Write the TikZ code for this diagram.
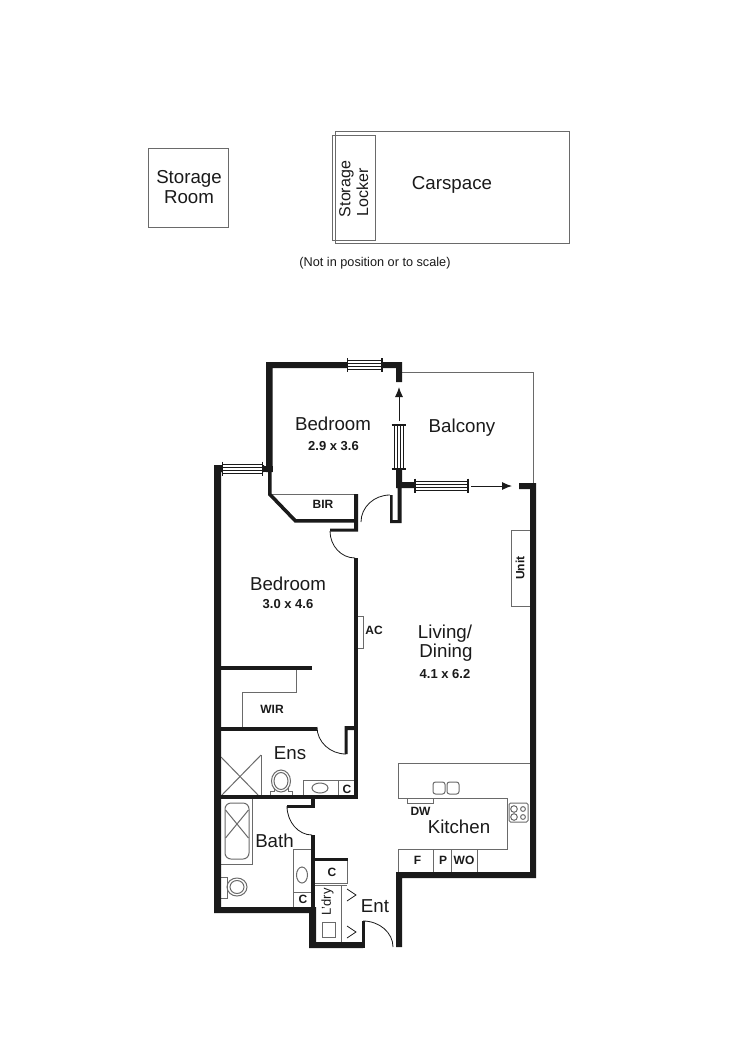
\documentclass[tikz,border=0pt]{standalone}
\usepackage{fontspec}
\setmainfont{Liberation Sans}
\usetikzlibrary{arrows.meta,calc}
\definecolor{ink}{HTML}{1A1A1A}
\definecolor{fixture}{HTML}{6A6A6A}
\tikzset{
  wall/.style={fill=ink,draw=none},
  fix/.style={draw=fixture,line width=1pt},
  keyline/.style={draw=ink,line width=0.8pt},
  doorarc/.style={draw=ink,line width=0.8pt},
  winframe/.style={draw=ink,fill=white,line width=0.9pt},
  movearrow/.style={draw=ink,line width=1pt,-{Latex[length=10pt,width=8pt]}},
  room/.style={inner sep=0pt,font=\fontsize{18.7}{20}\selectfont,text=ink},
  lockertext/.style={inner sep=0pt,font=\fontsize{16}{18}\selectfont,text=ink},
  dims/.style={inner sep=0pt,font=\fontsize{13}{15}\selectfont\bfseries,text=ink},
  tag/.style={inner sep=0pt,font=\fontsize{12}{14}\selectfont\bfseries,text=ink},
  plainTag/.style={inner sep=0pt,font=\fontsize{13}{15}\selectfont,text=ink},
  note/.style={inner sep=0pt,font=\fontsize{12.7}{14}\selectfont,text=ink}
}
% quarter circle from #1 to #2, tangents meeting at #3
\newcommand{\qarc}[3]{\draw[doorarc] (#1) .. controls ($(#1)!.55!(#3)$) and ($(#2)!.55!(#3)$) .. (#2);}
\newcommand{\hwin}[3]{% x1,x2,yc
  \draw[winframe] (#1,#3-4.5) rectangle (#2,#3+4.5);
  \draw[keyline] (#1,#3-1.5) -- (#2,#3-1.5) (#1,#3+1.5) -- (#2,#3+1.5);
  \draw[ink,line width=1.6pt] (#1,#3-7) -- (#1,#3+7) (#2,#3-7) -- (#2,#3+7);}
\newcommand{\vwin}[3]{% y1,y2,xc
  \draw[winframe] (#3-4.5,#1) rectangle (#3+4.5,#2);
  \draw[keyline] (#3-1.5,#1) -- (#3-1.5,#2) (#3+1.5,#1) -- (#3+1.5,#2);
  \draw[ink,line width=1.6pt] (#3-7,#1) -- (#3+7,#1) (#3-7,#2) -- (#3+7,#2);}
\begin{document}
\begin{tikzpicture}[x=1pt,y=-1pt]
\useasboundingbox[fill=white] (0,0) rectangle (750,1060);

% --- detached spaces
\draw[fix] (148.5,148.5) rectangle (228,227);
\draw[fix] (335,131.5) rectangle (569,243.5);
\draw[fix] (332.5,135) rectangle (375.5,240);

% --- balcony, light lines
\draw[fix] (402,372.5) -- (533,372.5) -- (533,484);

% --- fixtures
\draw[fix] (530,606) -- (511,606) -- (511,530) -- (530,530);
\draw[fix] (358,616) -- (363,616) -- (363,648) -- (358,648);
\draw[fix] (271,494.5) -- (355,494.5);
\draw[fix] (296,668) -- (296,692) -- (242,692) -- (242,727);
% shower
\draw[fix] (261,755) -- (261,796);
\draw[fix] (221,757) -- (259,796) (221,796) -- (261,755);
% ensuite toilet
\draw[fix] (270.5,796) -- (270.5,791) -- (274,791) -- (274,788) (288,788) -- (288,791) -- (292.5,791) -- (292.5,796);
\draw[fix] (281,781) ellipse [x radius=9.5,y radius=11];
\draw[fix] (281,781) ellipse [x radius=7,y radius=8.5];
% ensuite vanity
\draw[fix] (303.5,796) -- (303.5,780.5) -- (354,780.5);
\draw[fix] (338,780.5) -- (338,796);
\draw[fix] (320,788) ellipse [x radius=8,y radius=5];
% bath
\draw[fix] (252,799) -- (252,864) -- (221,864);
\draw[fix,rounded corners=6pt] (225,803) rectangle (249,859);
\draw[fix] (225.5,810) -- (248.5,838) (248.5,810) -- (225.5,838);
% bath toilet
\draw[fix] (221,877) -- (227,877) -- (227,898) -- (221,898);
\draw[fix] (237,887) ellipse [x radius=10,y radius=9];
\draw[fix] (237,887) ellipse [x radius=7,y radius=6.5];
% bath vanity
\draw[fix] (311,849.5) -- (293.5,849.5) -- (293.5,907);
\draw[fix] (293.5,892) -- (311,892);
\draw[fix] (302,875) ellipse [x radius=5.5,y radius=8];
% store and laundry
\draw[fix] (347,860) -- (347,883) -- (315,883);
\draw[fix] (315,885) -- (347,885);
\draw[fix] (341,885) -- (341,942);
\draw[fix] (322.5,922) rectangle (335,937);
\draw[keyline] (347,889) -- (356,895) -- (347,901);
\draw[keyline] (347,926) -- (356,932) -- (347,938);
% kitchen
\draw[fix] (530,763) -- (398.5,763) -- (398.5,798) -- (507,798) -- (507,849) -- (398.5,849) -- (398.5,872);
\draw[fix] (433,849) -- (433,872) (451,849) -- (451,872) (477,849) -- (477,872);
\draw[fix,rounded corners=2.5pt] (433,782) rectangle (445,794);
\draw[fix,rounded corners=2.5pt] (447,782) rectangle (459,794);
\draw[fix] (407.5,798) -- (407.5,803) -- (433,803) -- (433,798);
\draw[fix,rounded corners=1.5pt] (509,803) rectangle (528,822);
\draw[fix] (514,809) circle (3.3) (514,817) circle (3.3) (523,809) circle (2.4) (523,817) circle (2.4);

% --- main walls
\fill[wall] (266,362) -- (402,362) -- (402,382) -- (396,382) -- (396,368) -- (272.5,368) -- (272.5,472) -- (266,472) -- cycle;
\fill[wall] (214,465) -- (264,465) -- (264,472) -- (221,472) -- (221,907) -- (316,907) -- (316,942) -- (363,942) -- (363,948) -- (309,948) -- (309,913) -- (214,913) -- cycle;
\fill[wall] (262,465.5) rectangle (272.5,472);
\fill[wall] (396,469) -- (402,469) -- (402,482) -- (416,482) -- (416,488) -- (401.5,488) -- (401.5,523) -- (390,523) -- (390,495) -- (392.5,495) -- (392.5,520) -- (397.5,520) -- (397.5,488) -- (396,488) -- cycle;
\fill[wall] (519,483) -- (536,483) -- (536,878) -- (402,878) -- (402,947) -- (396,947) -- (396,872) -- (530,872) -- (530,489) -- (519,489) -- cycle;
\fill[wall] (268,472) -- (271.5,472) -- (271.5,493.5) -- (296,519) -- (354,519) -- (354,494) -- (358,494) -- (358,531.5) -- (330,531.5) -- (330,528.5) -- (354,528.5) -- (354,522.5) -- (294.5,522.5) -- (268,495) -- cycle;
\fill[wall] (354,558) rectangle (357.5,730);
\fill[wall] (221,726.5) rectangle (317,730.5);
\fill[wall] (344.5,726) -- (357,726) -- (357,730) -- (347.5,730) -- (347.5,754) -- (344.5,754) -- cycle;
\fill[wall] (354,726) rectangle (357.5,799);
\fill[wall] (221,795) rectangle (357.5,799);
\fill[wall] (221,665.5) rectangle (312,670);
\fill[wall] (311,799) rectangle (315,808);
\fill[wall] (287,805) rectangle (315,808);
\fill[wall] (311,835) rectangle (315,908);
\fill[wall] (314,858) rectangle (347.5,860.5);
\fill[wall] (362,921) rectangle (365,948);

% --- door swings
\qarc{390,495}{361,522}{361,495}
\qarc{330,531}{355,558}{330,558}
\qarc{317,727}{346,754}{317,754}
\qarc{287,806}{312,835}{287,835}
\qarc{363,921}{393,947}{393,921}

% --- windows
\hwin{347.5}{382}{365}
\hwin{222.5}{262.5}{468.5}
\hwin{415}{468}{485.5}
\vwin{425}{469}{398.5}

% --- movement arrows
\coordinate (slideAfrom) at (399,421);
\coordinate (slideAto) at (399,387);
\coordinate (slideBfrom) at (471,486);
\coordinate (slideBto) at (512,486);
\draw[movearrow] (slideAfrom) -- (slideAto);
\draw[movearrow] (slideBfrom) -- (slideBto);

% --- labels
\node[room] (storageRoomA) at (189,179) {Storage};
\node[room] (storageRoomB) at (189,197) {Room};
\node[room] (carspace) at (452,185) {Carspace};
\node[lockertext,rotate=90] (lockerA) at (346.5,189) {Storage};
\node[lockertext,rotate=90] (lockerB) at (362.5,192) {Locker};
\node[note] (notScale) at (375,263) {(Not in position or to scale)};
\node[room] (bedroomOne) at (333,424) {Bedroom};
\node[dims] (bedroomOneDim) at (333.5,446) {2.9 x 3.6};
\node[room] (balcony) at (462,428) {Balcony};
\node[tag] (bir) at (323,504.5) {BIR};
\node[tag,rotate=90] (unit) at (520,568) {Unit};
\node[room] (bedroomTwo) at (288,584) {Bedroom};
\node[dims] (bedroomTwoDim) at (288,604) {3.0 x 4.6};
\node[tag] (ac) at (374,630) {AC};
\node[room] (livingA) at (445,634) {Living/};
\node[room] (livingB) at (446,653) {Dining};
\node[dims] (livingDim) at (445,674) {4.1 x 6.2};
\node[tag] (wir) at (272,709) {WIR};
\node[room] (ens) at (290,753) {Ens};
\node[tag] (ensC) at (347,789) {C};
\node[tag] (dw) at (420.5,811) {DW};
\node[room] (kitchen) at (459,827) {Kitchen};
\node[tag] (fridge) at (417.5,860.5) {F};
\node[tag] (pantry) at (443,860.5) {P};
\node[tag] (wo) at (464,860.5) {WO};
\node[room] (bath) at (274.5,841) {Bath};
\node[tag] (storeC) at (332,872) {C};
\node[tag] (bathC) at (303,899) {C};
\node[plainTag,rotate=90] (laundry) at (327.5,902) {L'dry};
\node[room] (ent) at (375,906) {Ent};
\end{tikzpicture}
\end{document}
